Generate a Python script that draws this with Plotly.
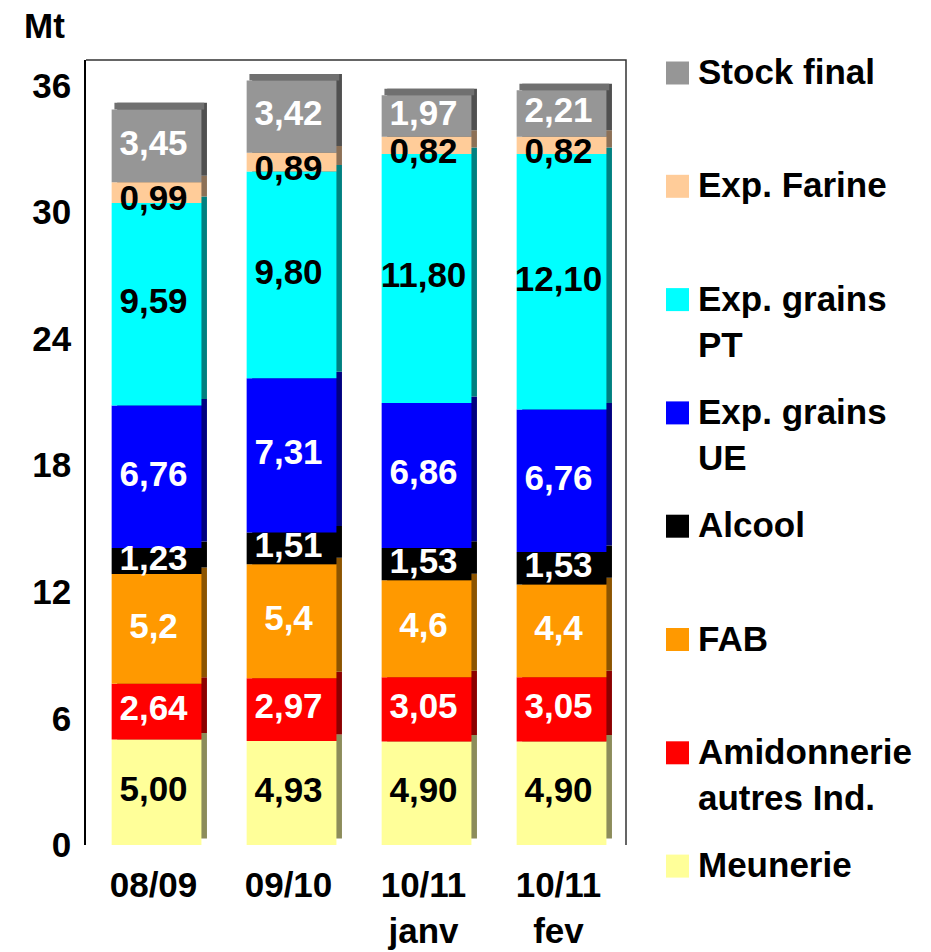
import plotly.graph_objects as go
import numpy as np

# ---------------- data ----------------
categories = ["08/09", "09/10", "10/11<br>janv", "10/11<br>fev"]
series_names = ["Meunerie", "Amidonnerie<br>autres Ind.", "FAB", "Alcool",
                "Exp. grains<br>UE", "Exp. grains<br>PT", "Exp. Farine", "Stock final"]
meunerie = [5.00, 4.93, 4.90, 4.90]
amidonnerie = [2.64, 2.97, 3.05, 3.05]
fab = [5.2, 5.4, 4.6, 4.4]
alcool = [1.23, 1.51, 1.53, 1.53]
exp_grains_ue = [6.76, 7.31, 6.86, 6.76]
exp_grains_pt = [9.59, 9.80, 11.80, 12.10]
exp_farine = [0.99, 0.89, 0.82, 0.82]
stock_final = [3.45, 3.42, 1.97, 2.21]
decimals = [2, 2, 1, 2, 2, 2, 2, 2]
y_ticks = [0, 6, 12, 18, 24, 30, 36]

series_values = [meunerie, amidonnerie, fab, alcool, exp_grains_ue,
                 exp_grains_pt, exp_farine, stock_final]

# ---------------- style ----------------
front_colors = ["#FFFF99", "#FF0000", "#FF9900", "#000000", "#0000FF",
                "#00FFFF", "#FFCC99", "#969696"]
side_colors = ["#8C8C5A", "#8C0000", "#8C5400", "#000000", "#000080",
               "#008080", "#8C7056", "#505050"]
label_colors = ["black", "white", "white", "white", "white", "black", "black", "white"]
label_shift = [0, 0, 0, 0, 0, 0, -0.42, 0]   # value units, label placement tweak
top_color = "#707070"

FONT = "Liberation Sans, Arial, sans-serif"
FS = 35

W, H = 931, 952
L, R, T, B = 86, 626, 60, 845
Y_MAX = 37.2

BAR_OFFSET = -0.31
BAR_WIDTH = 0.665
DX = 0.041   # depth in category units
DY = 0.31    # depth in value units

def px(x):
    return (x - L) / (R - L)

def py(y):
    return (B - y) / (B - T)

fig = go.Figure()

vals = np.array(series_values, dtype=float)
bases = np.vstack([np.zeros(vals.shape[1]), np.cumsum(vals, axis=0)[:-1]])
tops = np.cumsum(vals, axis=0)[-1]

# depth (side faces)
for i, name in enumerate(series_names):
    fig.add_trace(go.Bar(
        x=categories, y=vals[i], base=bases[i] + DY,
        offset=BAR_OFFSET + DX, width=BAR_WIDTH,
        marker=dict(color=side_colors[i], line=dict(width=0)),
        showlegend=False, hoverinfo="skip"))

# top cap
fig.add_trace(go.Bar(
    x=categories, y=[DY] * len(categories), base=tops,
    offset=BAR_OFFSET + DX / 2, width=BAR_WIDTH,
    marker=dict(color=top_color, line=dict(width=0)),
    showlegend=False, hoverinfo="skip"))

# front faces
for i, name in enumerate(series_names):
    fig.add_trace(go.Bar(
        x=categories, y=vals[i], base=bases[i],
        offset=BAR_OFFSET, width=BAR_WIDTH, name=name,
        marker=dict(color=front_colors[i], line=dict(width=0)),
        showlegend=False))

# labels
for i, name in enumerate(series_names):
    labels = [f"{v:.{decimals[i]}f}".replace(".", ",") for v in vals[i]]
    fig.add_trace(go.Scatter(
        x=categories, y=bases[i] + vals[i] / 2 + label_shift[i], mode="text", text=labels,
        textposition="middle center",
        textfont=dict(family=FONT, size=FS, color=label_colors[i], weight="bold"),
        showlegend=False, hoverinfo="skip"))

# ---------------- custom legend ----------------
legend_rows = list(range(len(series_names)))[::-1]  # Stock final on top
shapes = []
annotations = []
for k, i in enumerate(legend_rows):
    cy = 73 + k * 113.3
    shapes.append(dict(type="rect", xref="paper", yref="paper",
                       x0=px(666), x1=px(689), y0=py(cy + 11.5), y1=py(cy - 11.5),
                       fillcolor=front_colors[i], line=dict(width=0)))
    annotations.append(dict(xref="paper", yref="paper", x=px(696), y=py(cy - 23),
                            xanchor="left", yanchor="top", align="left",
                            text=series_names[i], showarrow=False,
                            font=dict(family=FONT, size=FS, color="black", weight="bold")))

annotations.append(dict(xref="paper", yref="paper", x=px(44), y=py(25),
                        xanchor="center", yanchor="middle", text="Mt", showarrow=False,
                        font=dict(family=FONT, size=FS, color="black", weight="bold")))

# top and right border of the back wall
shapes.append(dict(type="path", xref="paper", yref="paper", path="M0,1 L1,1 L1,0",
                   line=dict(color="#333333", width=1.5)))

fig.update_layout(
    width=W, height=H,
    margin=dict(l=L, r=W - R, t=T, b=H - B),
    paper_bgcolor="white", plot_bgcolor="white",
    barmode="overlay", showlegend=False,
    shapes=shapes, annotations=annotations,
    font=dict(family=FONT, size=FS, color="black", weight="bold"),
)
fig.update_xaxes(type="category", range=[-0.5, len(categories) - 0.5],
                 showline=False, showgrid=False, zeroline=False, ticks="",
                 ticklabelstandoff=16, automargin=False,
                 tickfont=dict(family=FONT, size=FS, color="black", weight="bold"))
fig.update_yaxes(range=[0, Y_MAX], tickvals=y_ticks, ticktext=[str(v) for v in y_ticks],
                 showline=True, linecolor="black", linewidth=1.5, showgrid=False,
                 zeroline=False, ticks="", ticklabelstandoff=6, automargin=False,
                 tickfont=dict(family=FONT, size=FS, color="black", weight="bold"))

fig.write_html("out.html", config={"displayModeBar": False},
               post_script="document.body.style.margin='0px';")
